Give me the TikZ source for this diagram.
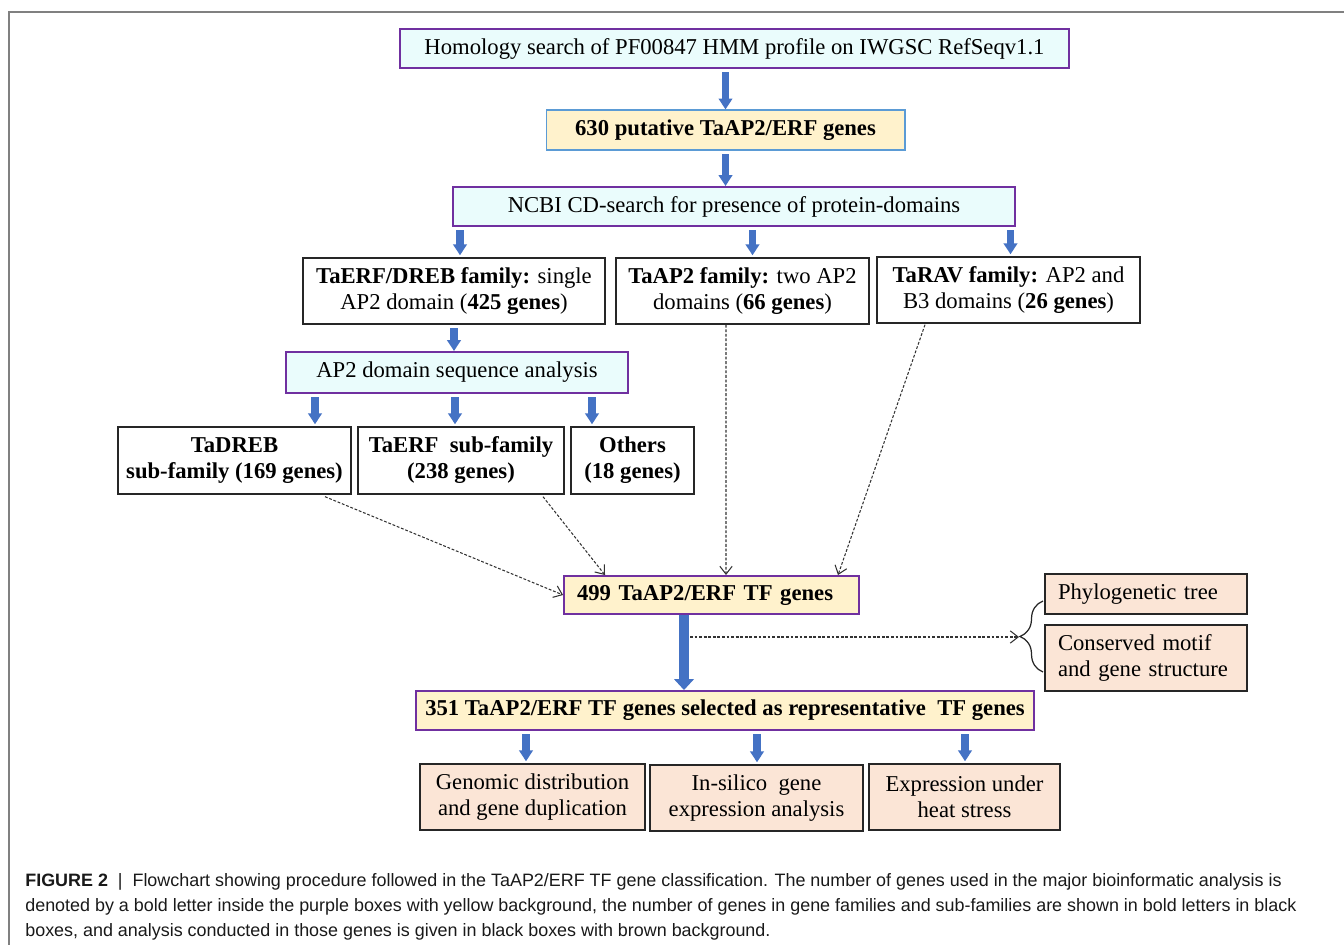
\documentclass[tikz,border=0pt]{standalone}
\usepackage{fontspec}
\setmainfont{Liberation Serif}
\newfontfamily\capfont{Liberation Sans}
\usepackage{tikz}
\usepackage{xcolor}
\usetikzlibrary{arrows.meta, positioning, calc, decorations.pathreplacing}

\definecolor{boxpurple}{HTML}{7030A0}
\definecolor{palecyan}{HTML}{EAFCFC}
\definecolor{paleyellow}{HTML}{FFF2CC}
\definecolor{palebrown}{HTML}{FBE5D6}
\definecolor{arrowblue}{HTML}{4472C4}
\definecolor{lineblue}{HTML}{5B9BD5}
\newcommand{\boxfont}{\fontsize{12.9}{14.8}\selectfont}

\tikzset{
  searchbox/.style={draw=boxpurple, line width=1.1pt, fill=palecyan, inner sep=0pt, align=center, font=\boxfont},
  countbox/.style={draw=boxpurple, line width=1.1pt, fill=paleyellow, inner sep=0pt, align=center, font=\boxfont\bfseries},
  familybox/.style={draw=black!85, line width=0.8pt, fill=white, inner sep=0pt, align=center, font=\boxfont},
  analysisbox/.style={draw=black!85, line width=0.8pt, fill=palebrown, inner sep=0pt, align=center, font=\boxfont},
  blockarrow/.style={draw=arrowblue, line width=4.5pt, -{Triangle[length=6.2pt, width=7.6pt]}, shorten <=2pt},
  bigarrow/.style={draw=arrowblue, line width=5.7pt, -{Triangle[length=6.2pt, width=11pt]}},
  dotarrow/.style={draw=black!80, line width=0.6pt, dash pattern=on 1.6pt off 1pt, -{Straight Barb[length=4.5pt, width=7pt]}}
}

\begin{document}
\begin{tikzpicture}[x=0.02cm, y=-0.02cm]
\useasboundingbox (0,0) rectangle (1344,945);
\draw[gray, line width=0.8pt] (9,945) -- (9,12) -- (1344,12);

% Search steps
\node[searchbox, minimum width=13.38cm, minimum height=0.78cm] (homology) at (734.5,48.5) {Homology search of PF00847 HMM profile on IWGSC RefSeqv1.1};
\node[countbox, draw=lineblue, line width=0.6pt, minimum width=7.18cm, minimum height=0.8cm] (putative) at (725.5,130) {630 putative TaAP2/ERF genes};
\node[searchbox, minimum width=11.24cm, minimum height=0.78cm] (ncbi) at (734,206.5) {NCBI CD-search for presence of protein-domains};

% Families
\node[familybox, minimum width=6.04cm, minimum height=1.32cm] (erfdreb) at (454,291) {\textbf{TaERF/DREB family:} single\\AP2 domain (\textbf{425 genes})};
\node[familybox, minimum width=5.06cm, minimum height=1.32cm] (ap2fam) at (742.5,291) {\textbf{TaAP2 family:} two AP2\\domains (\textbf{66 genes})};
\node[familybox, minimum width=5.26cm, minimum height=1.32cm] (ravfam) at (1008.5,290) {\textbf{TaRAV family:} AP2 and\\B3 domains (\textbf{26 genes})};

\node[searchbox, minimum width=6.84cm, minimum height=0.82cm] (ap2seq) at (457,372.5) {AP2 domain sequence analysis};

% Sub-families
\node[familybox, font=\boxfont\bfseries, minimum width=4.66cm, minimum height=1.34cm] (dreb) at (234.5,460.5) {TaDREB\\sub-family (169 genes)};
\node[familybox, font=\boxfont\bfseries, minimum width=4.12cm, minimum height=1.34cm] (erfsub) at (461,460.5) {TaERF\ \ sub-family\\(238 genes)};
\node[familybox, font=\boxfont\bfseries, minimum width=2.46cm, minimum height=1.34cm] (others) at (632.5,460.5) {Others\\(18 genes)};

% TF genes
\node[countbox, align=left, text width=5.38cm, inner xsep=0.26cm, minimum height=0.76cm] (tf499) at (711.5,595) {499 TaAP2/ERF TF genes};
\node[countbox, minimum width=12.36cm, minimum height=0.78cm] (tf351) at (725,710.5) {351 TaAP2/ERF TF genes selected as representative\ \ TF genes};

% Analyses
\node[analysisbox, align=left, text width=3.52cm, inner xsep=0.26cm, minimum height=0.8cm] (phylo) at (1146,594) {Phylogenetic tree};
\node[analysisbox, align=left, text width=3.52cm, inner xsep=0.26cm, minimum height=1.32cm] (motif) at (1146,658) {Conserved motif\\and gene structure};
\node[analysisbox, minimum width=4.5cm, minimum height=1.32cm] (genomic) at (532.5,797) {Genomic distribution\\and gene duplication};
\node[analysisbox, minimum width=4.26cm, minimum height=1.32cm] (insilico) at (756.5,798) {In-silico\ \ gene\\expression analysis};
\node[analysisbox, minimum width=3.82cm, minimum height=1.32cm] (heat) at (964.5,797) {Expression under\\heat stress};

% Block arrows
\draw[blockarrow] (homology.south -| putative.north) -- (putative.north);
\draw[blockarrow] (putative.south) -- (putative.south |- ncbi.north);
\foreach \n/\dx in {erfdreb/6, ap2fam/10, ravfam/2}
  \draw[blockarrow] ($(ncbi.south -| \n.north)+(\dx,0)$) -- ($(\n.north)+(\dx,-2)$);
\draw[blockarrow] (erfdreb.south) -- (erfdreb.south |- ap2seq.north);
\foreach \n/\dx in {dreb/80.5, erfsub/-6, others/-40.5}
  \draw[blockarrow] ($(ap2seq.south -| \n.north)+(\dx,0)$) -- ($(\n.north)+(\dx,-2)$);
\draw[bigarrow] ($(tf499.south)+(-27.5,0)$) -- ($(tf351.north)+(-41,0)$);
\foreach \n/\dx in {genomic/-6.5, insilico/0.5, heat/0.5}
  \draw[blockarrow] ($(tf351.south -| \n.north)+(\dx,0)$) -- ($(\n.north)+(\dx,-2)$);

% Dotted arrows
\draw[dotarrow] ($(dreb.south)+(90.5,2)$) -- (tf499.west);
\draw[dotarrow] ($(erfsub.south)+(82,2)$) -- ($(tf499.north)+(-106.5,0)$);
\draw[dotarrow] ($(ap2fam.south)+(-16.5,0)$) -- ($(tf499.north)+(14.5,0)$);
\draw[dotarrow] ($(ravfam.south)+(-83.5,1)$) -- ($(tf499.north)+(126.5,0)$);

% Brace
\coordinate (branch) at (690,637);
\coordinate (bracetip) at (1019,637);
\draw[black!85, line width=0.7pt, decorate, decoration={brace, amplitude=0.46cm}] (1043,672) -- (1043,601);
\draw[dotarrow] (branch) -- (bracetip);

% Caption
\node[anchor=base west, align=left, inner sep=0pt, font=\capfont\fontsize{10.2}{14.2}\selectfont, text=black!90] (caption) at (25,936)
  {\textbf{FIGURE 2}\ \ \textbar\ \ Flowchart showing procedure followed in the TaAP2/ERF TF gene classification. The number of genes used in the major bioinformatic analysis is\\
   denoted by a bold letter inside the purple boxes with yellow background, the number of genes in gene families and sub-families are shown in bold letters in black\\
   boxes, and analysis conducted in those genes is given in black boxes with brown background.};
\end{tikzpicture}
\end{document}
